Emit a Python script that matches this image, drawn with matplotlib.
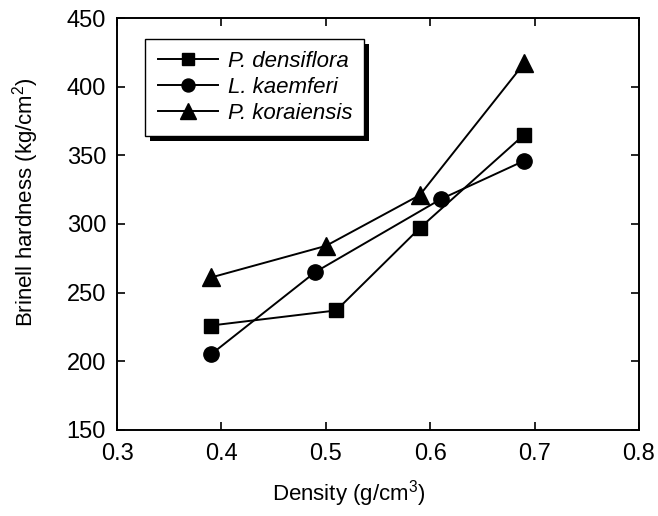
import matplotlib.pyplot as plt
from matplotlib.patches import Rectangle
from matplotlib.transforms import IdentityTransform

plt.rcParams['font.family'] = ['Liberation Sans', 'DejaVu Sans']
plt.rcParams['mathtext.fontset'] = 'custom'
plt.rcParams['mathtext.rm'] = 'Liberation Sans'

# data
dens_pd = [0.39, 0.51, 0.59, 0.69]
hard_pd = [226, 237, 297, 365]
dens_lk = [0.39, 0.49, 0.61, 0.69]
hard_lk = [205, 265, 318, 346]
dens_pk = [0.39, 0.50, 0.59, 0.69]
hard_pk = [261, 284, 321, 417]
labels = ['P. densiflora', 'L. kaemferi', 'P. koraiensis']

fig = plt.figure(figsize=(6.58, 5.16), dpi=100)
ax = fig.add_axes([0.178, 0.167, 0.793, 0.798])

ax.plot(dens_pd, hard_pd, '-s', color='k', lw=1.4, ms=10, label=labels[0])
ax.plot(dens_lk, hard_lk, '-o', color='k', lw=1.4, ms=11, label=labels[1])
ax.plot(dens_pk, hard_pk, '-^', color='k', lw=1.4, ms=13, label=labels[2])

ax.set_xlim(0.3, 0.8)
ax.set_ylim(150, 450)
ax.set_xticks([0.3, 0.4, 0.5, 0.6, 0.7, 0.8])
ax.set_yticks([150, 200, 250, 300, 350, 400, 450])
ax.tick_params(direction='in', labelsize=17, width=1.2, colors='k')
ax.tick_params(axis='x', which='major', bottom=True, length=6, pad=9.5)
ax.tick_params(axis='y', which='major', left=True, length=6, pad=8)
ax.tick_params(top=True, right=True)
for s in ax.spines.values():
    s.set_linewidth(1.4)

ax.set_xlabel('Density (g/cm$^3$)', fontsize=16)
ax.set_ylabel('Brinell hardness (kg/cm$^2$)', fontsize=16)
ax.xaxis.set_label_coords(0.444, -0.117)
ax.yaxis.set_label_coords(-0.146, 0.553)

leg = ax.legend(loc='upper left', bbox_to_anchor=(0.054, 0.95), fancybox=False,
                framealpha=1, edgecolor='k', prop={'style': 'italic', 'size': 16},
                handlelength=2.7, handletextpad=0.45, borderpad=0.55, labelspacing=0.22,
                borderaxespad=0, markerscale=0.85)
leg.get_frame().set_linewidth(1.0)
leg.set_zorder(6)

fig.canvas.draw()
bb = leg.get_window_extent()
shadow = Rectangle((bb.x0 + 5, bb.y0 - 5), bb.width, bb.height, transform=IdentityTransform(),
                   facecolor='k', edgecolor='none', zorder=5, clip_on=False)
ax.add_artist(shadow)

fig.savefig('out.png', dpi=100)
